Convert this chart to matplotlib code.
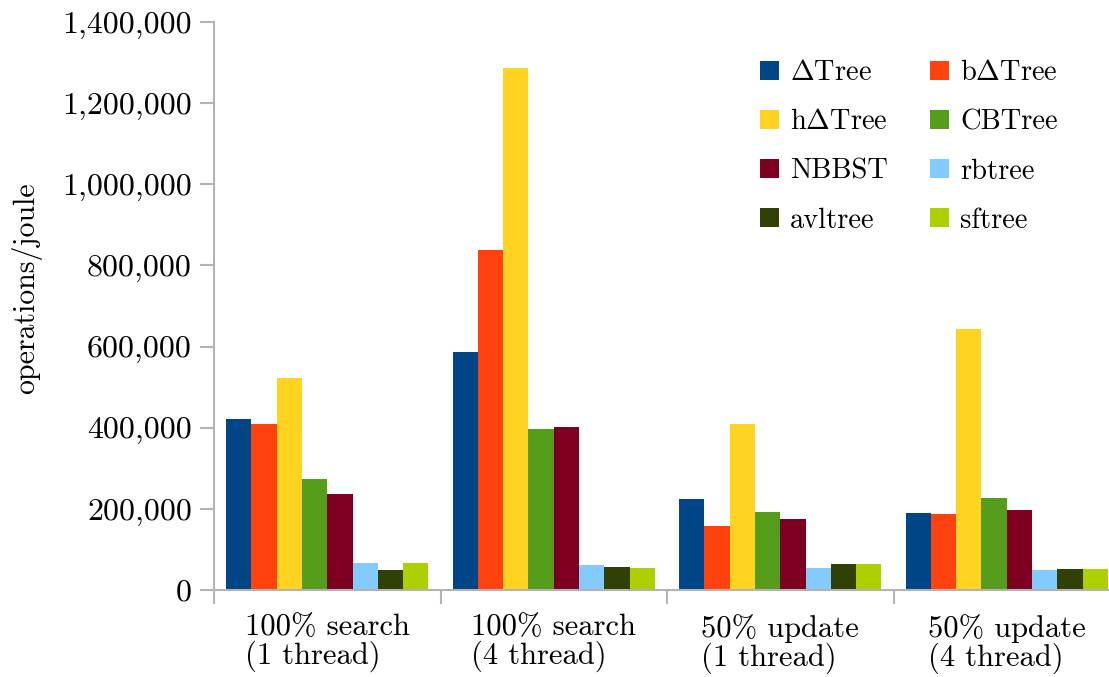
import numpy as np
import matplotlib
matplotlib.use("Agg")
import matplotlib.pyplot as plt
from matplotlib.ticker import FuncFormatter, FixedLocator

plt.rcParams["font.family"] = ["cmr10", "DejaVu Serif"]
plt.rcParams["mathtext.fontset"] = "cm"
plt.rcParams["axes.unicode_minus"] = False
plt.rcParams["axes.formatter.use_mathtext"] = True

# data (operations/joule)
categories = ["100% search\n(1 thread)", "100% search\n(4 thread)",
              "50% update\n(1 thread)", "50% update\n(4 thread)"]
series = [r"$\Delta$Tree", r"b$\Delta$Tree", r"h$\Delta$Tree", "CBTree",
          "NBBST", "rbtree", "avltree", "sftree"]
delta_tree = [421000, 586000, 224000, 190000]
b_delta_tree = [409000, 838000, 157000, 187000]
h_delta_tree = [522000, 1287000, 409000, 643000]
cb_tree = [273000, 396000, 192000, 226000]
nbbst = [236000, 402000, 174000, 197000]
rbtree = [66000, 61000, 53000, 49000]
avltree = [49000, 56000, 63000, 51000]
sftree = [66000, 53000, 63000, 51000]
values = [delta_tree, b_delta_tree, h_delta_tree, cb_tree, nbbst, rbtree, avltree, sftree]
colors = ["#004586", "#ff420e", "#ffd320", "#579d1c",
          "#7e0021", "#83caff", "#314004", "#aecf00"]

grey = "#b3b3b3"

fig = plt.figure(figsize=(11.09, 6.77), dpi=100)
ax = fig.add_axes([214 / 1109, 1 - 590 / 677, 906 / 1109, 568 / 677])

w = 0.1115
x = np.arange(len(categories)) + 0.5
handles = []
for j, (name, vals, c) in enumerate(zip(series, values, colors)):
    b = ax.bar(x + (j - 3.5) * w, vals, width=w, color=c, label=name, linewidth=0)
    handles.append(b)

ax.set_xlim(0, 4)
ax.set_ylim(0, 1400000)
ax.set_yticks(np.arange(0, 1400001, 200000))
ax.yaxis.set_major_formatter(FuncFormatter(lambda v, p: f"{v:,.0f}"))

# category boundaries as ticks, labels in the middle
ax.xaxis.set_major_locator(FixedLocator([0, 1, 2, 3, 4]))
ax.xaxis.set_major_formatter(FuncFormatter(lambda v, p: ""))
ax.xaxis.set_minor_locator(FixedLocator(x))
ax.set_xticklabels(categories, minor=True)
ax.tick_params(axis="x", which="major", length=10, width=1.5, color=grey, direction="out")
ax.tick_params(axis="x", which="minor", length=0, pad=17, labelsize=22)
for t in ax.get_xticklabels(minor=True):
    t.set_multialignment("left")
    t.set_linespacing(0.98)
ax.tick_params(axis="y", length=10, width=1.5, color=grey, labelsize=23, pad=6)

for s in ["top", "right"]:
    ax.spines[s].set_visible(False)
for s in ["left", "bottom"]:
    ax.spines[s].set_color(grey)
    ax.spines[s].set_linewidth(1.5)

ax.set_ylabel("operations/joule", fontsize=21.5)
ax.yaxis.set_label_coords((42 - 214) / 906, (590 - 288) / 568)

order = [0, 2, 4, 6, 1, 3, 5, 7]
ax.legend([handles[i] for i in order], [series[i] for i in order],
          ncol=2, loc="upper left", bbox_to_anchor=(760 / 1109, 1 - 60 / 677),
          bbox_transform=fig.transFigure, frameon=False, fontsize=20.5,
          handlelength=0.65, handleheight=0.65, handletextpad=0.4,
          columnspacing=1.5, labelspacing=0.8, borderpad=0, borderaxespad=0)

fig.savefig("out.png", dpi=100)
